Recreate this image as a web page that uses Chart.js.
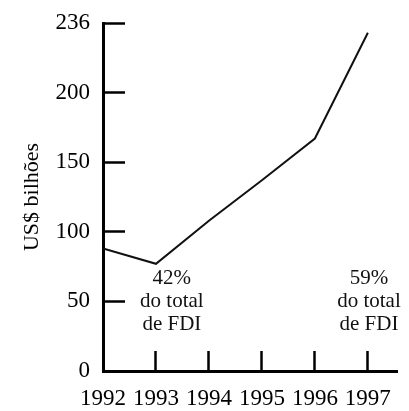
<!DOCTYPE html>
<html>
<head>
<meta charset="utf-8">
<script src="https://cdn.jsdelivr.net/npm/chart.js@4/dist/chart.umd.min.js"></script>
<style>
  html, body { margin: 0; padding: 0; background: #fff; }
  #wrap { width: 409px; height: 411px; }
</style>
</head>
<body>
<div id="wrap"><canvas id="fdiChart"></canvas></div>
<script>
// data
const years = [1992, 1993, 1994, 1995, 1996, 1997];
const fdiValues = [88, 77, 108, 137, 167, 243];
const yTicks = [0, 50, 100, 150, 200, 250];
const yTickLabels = ['0', '50', '100', '150', '200', '236'];
const noteYears = [1993.3, 1997.02];
const noteTexts = [['42%', 'do total', 'de FDI'], ['59%', 'do total', 'de FDI']];
const noteLevel = 50;

Chart.defaults.font.family = "'Liberation Serif', 'DejaVu Serif', serif";
Chart.defaults.color = '#000';

const notesPlugin = {
    id: 'notes',
    afterDatasetsDraw(chart) {
        const ctx = chart.ctx;
        const xs = chart.scales.x;
        const ys = chart.scales.y;
        ctx.save();
        ctx.font = "21px 'Liberation Serif', serif";
        ctx.fillStyle = '#111';
        ctx.textAlign = 'center';
        ctx.textBaseline = 'middle';
        noteTexts.forEach(function (lines, i) {
            let px = xs.getPixelForValue(noteYears[i]);
            let py = ys.getPixelForValue(noteLevel);
            lines.forEach(function (line, j) {
                ctx.fillText(line, px, py + (j - 1) * 23);
            });
        });
        ctx.restore();
    }
};

const ctx = document.getElementById('fdiChart').getContext('2d');
new Chart(ctx, {
    type: 'line',
    data: {
        datasets: [{
            data: years.map((y, i) => ({ x: y, y: fdiValues[i] })),
            borderColor: '#111',
            borderWidth: 2,
            pointRadius: 0,
            tension: 0,
            fill: false
        }]
    },
    options: {
        responsive: true,
        maintainAspectRatio: false,
        animation: false,
        layout: { padding: { top: 23, right: 12, left: 0, bottom: 0 } },
        plugins: {
            legend: { display: false },
            tooltip: { enabled: false }
        },
        scales: {
            x: {
                type: 'linear',
                min: 1992,
                max: 1997.55,
                afterBuildTicks: function (scale) {
                    scale.ticks = years.map(v => ({ value: v }));
                },
                afterFit: function (scale) {
                    scale.height = 40;
                    scale.paddingLeft = 0;
                    scale.paddingRight = 0;
                },
                ticks: {
                    autoSkip: false,
                    maxRotation: 0,
                    padding: 34,
                    font: { size: 23 },
                    callback: value => String(value)
                },
                grid: {
                    drawOnChartArea: false,
                    tickLength: -20,
                    tickWidth: 2.5,
                    color: '#000'
                },
                border: { color: '#000', width: 3 }
            },
            y: {
                min: 0,
                max: 250,
                afterBuildTicks: function (scale) {
                    scale.ticks = yTicks.map(v => ({ value: v }));
                },
                afterFit: function (scale) {
                    scale.width = 103;
                    scale.paddingTop = 0;
                    scale.paddingBottom = 0;
                },
                ticks: {
                    padding: 35,
                    font: { size: 23 },
                    callback: (value, index) => yTickLabels[index]
                },
                grid: {
                    drawOnChartArea: false,
                    tickLength: -22,
                    tickWidth: 2.5,
                    color: '#000'
                },
                border: { color: '#000', width: 3 },
                title: {
                    display: true,
                    text: 'US$ bilhões',
                    font: { size: 22 },
                    padding: { top: 19, bottom: 0 }
                }
            }
        }
    },
    plugins: [notesPlugin]
});
</script>
</body>
</html>
